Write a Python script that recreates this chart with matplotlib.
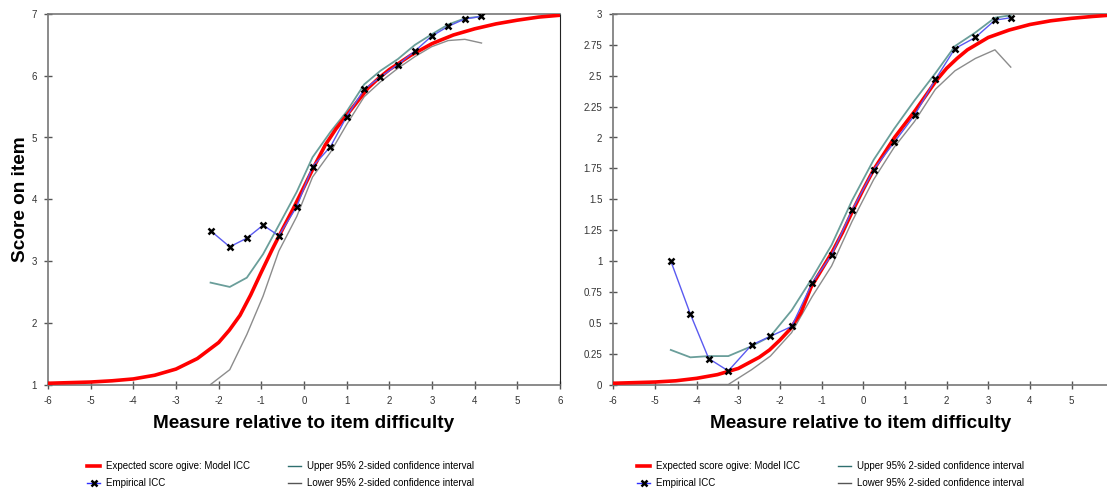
import matplotlib.pyplot as plt
from matplotlib.lines import Line2D
from matplotlib.ticker import FormatStrFormatter

plt.rcParams['font.family'] = ['Liberation Sans', 'DejaVu Sans']
plt.rcParams['axes.unicode_minus'] = False

# left chart (7 category item)
left_model_x = [-6, -5.5, -5, -4.5, -4, -3.5, -3, -2.5, -2, -1.75, -1.5, -1.25, -1, -0.75, -0.5, -0.25,
                0, 0.25, 0.5, 0.75, 1, 1.25, 1.5, 1.75, 2, 2.5, 3, 3.5, 4, 4.5, 5, 5.5, 6]
left_model_y = [1.02, 1.03, 1.04, 1.06, 1.09, 1.15, 1.25, 1.42, 1.68, 1.88, 2.12, 2.45, 2.82, 3.18, 3.52, 3.85,
                4.2, 4.55, 4.88, 5.14, 5.36, 5.58, 5.8, 5.96, 6.1, 6.33, 6.52, 6.66, 6.76, 6.84, 6.9, 6.95, 6.98]
left_emp_x = [-2.19, -1.74, -1.34, -0.96, -0.59, -0.17, 0.20, 0.62, 1.00, 1.41, 1.79, 2.20, 2.60, 2.99, 3.38, 3.77, 4.16]
left_emp_y = [3.49, 3.23, 3.37, 3.58, 3.41, 3.88, 4.53, 4.85, 5.34, 5.78, 5.98, 6.18, 6.40, 6.64, 6.80, 6.92, 6.96]
left_upper = [2.65, 2.58, 2.73, 3.11, 3.58, 4.12, 4.68, 5.09, 5.42, 5.86, 6.08, 6.27, 6.50, 6.67, 6.83, 6.93, 6.96]
left_lower = [1.00, 1.24, 1.81, 2.43, 3.16, 3.72, 4.36, 4.76, 5.21, 5.66, 5.90, 6.12, 6.31, 6.47, 6.57, 6.59, 6.53]

# right chart (4 category item)
right_model_x = [-6, -5.5, -5, -4.5, -4, -3.5, -3, -2.5, -2.25, -2, -1.75, -1.5, -1.25, -1, -0.75, -0.5, -0.25,
                 0, 0.25, 0.5, 0.75, 1, 1.25, 1.5, 1.75, 2, 2.25, 2.5, 3, 3.5, 4, 4.5, 5, 5.5, 5.9]
right_model_y = [0.01, 0.015, 0.02, 0.03, 0.05, 0.08, 0.13, 0.22, 0.28, 0.36, 0.45, 0.58, 0.79, 0.93, 1.07, 1.23, 1.41,
                 1.58, 1.74, 1.87, 2.0, 2.11, 2.22, 2.34, 2.46, 2.56, 2.64, 2.71, 2.81, 2.87, 2.915, 2.945, 2.965, 2.98, 2.99]
right_emp_x = [-4.62, -4.15, -3.71, -3.24, -2.68, -2.23, -1.72, -1.23, -0.76, -0.27, 0.25, 0.74, 1.23, 1.73, 2.20, 2.69, 3.16, 3.54]
right_emp_y = [1.00, 0.57, 0.21, 0.11, 0.32, 0.39, 0.47, 0.82, 1.05, 1.41, 1.74, 1.96, 2.18, 2.47, 2.72, 2.81, 2.95, 2.97]
right_upper = [0.28, 0.22, 0.23, 0.23, 0.31, 0.39, 0.60, 0.86, 1.13, 1.49, 1.82, 2.07, 2.30, 2.52, 2.74, 2.85, 2.97, 2.99]
right_lower = [0.00, 0.00, 0.00, 0.00, 0.12, 0.23, 0.42, 0.71, 0.96, 1.32, 1.66, 1.92, 2.13, 2.39, 2.54, 2.64, 2.71, 2.57]

left_yticks = [1, 2, 3, 4, 5, 6, 7]
right_yticks = [0, 0.25, 0.5, 0.75, 1, 1.25, 1.5, 1.75, 2, 2.25, 2.5, 2.75, 3]

legend_labels = ["Expected score ogive: Model ICC", "Empirical ICC",
                 "Upper 95% 2-sided confidence interval", "Lower 95% 2-sided confidence interval"]

W, H = 1107, 494
fig = plt.figure(figsize=(W / 100, H / 100), dpi=100)


def px_box(x0, x1, y_top, y_bot):
    return [x0 / W, 1 - y_bot / H, (x1 - x0) / W, (y_bot - y_top) / H]


def draw_icc(ax, mx, my, ex, ey, up, lo):
    ax.plot(ex, up, color='#6a9e9a', lw=1.3, zorder=2)
    ax.plot(ex, lo, color='#8c8c8c', lw=1.0, zorder=2)
    ax.plot(mx, my, color='#ff0000', lw=2.6, zorder=3)
    ax.plot(ex, ey, color='#5a5af0', lw=1.0, zorder=4)
    ax.plot(ex, ey, ls='none', marker='x', ms=5, mew=1.8, color='black', zorder=5)


def style_axes(ax, xlim, ylim, xticks, yticks):
    ax.set_xlim(*xlim)
    ax.set_ylim(*ylim)
    ax.set_xticks(xticks)
    ax.set_yticks(yticks)
    ax.yaxis.set_major_formatter(FormatStrFormatter('%g'))
    ax.tick_params(direction='inout', length=6, width=1, color='#555555',
                   labelsize=7, labelcolor='#333333', pad=5)
    for s in ['left', 'top', 'bottom']:
        ax.spines[s].set_color('#777777')
        ax.spines[s].set_linewidth(1.2)
    ax.set_xlabel("Measure relative to item difficulty", fontsize=13.7, fontweight='bold')
    ax.xaxis.set_label_coords(0.5, -0.082)


def add_legend(ax, x_px):
    handles = [
        Line2D([], [], color='#ff0000', lw=2.6),
        Line2D([], [], color='#3030ff', lw=1, marker='x', ms=5, mew=1.8, mec='black'),
        Line2D([], [], color='#2f6f6f', lw=1),
        Line2D([], [], color='#555555', lw=1),
    ]
    fig.legend(handles, legend_labels, loc='upper left', bbox_to_anchor=(x_px / W, 1 - 461 / H),
               ncol=2, frameon=False, fontsize=7, handlelength=1.35, handletextpad=0.6,
               columnspacing=3.9, labelspacing=0.75, borderpad=0, borderaxespad=0)


ax1 = fig.add_axes(px_box(48, 560, 14, 384.5))
draw_icc(ax1, left_model_x, left_model_y, left_emp_x, left_emp_y, left_upper, left_lower)
style_axes(ax1, (-6, 6), (1, 7), range(-6, 7), left_yticks)
ax1.spines['right'].set_color('#222222')
ax1.set_ylabel("Score on item", fontsize=13.7, fontweight='bold')
ax1.yaxis.set_label_coords(-0.038, 0.5)
add_legend(ax1, 87)

ax2 = fig.add_axes(px_box(613.3, 1107, 14, 384.5))
draw_icc(ax2, right_model_x, right_model_y, right_emp_x, right_emp_y, right_upper, right_lower)
style_axes(ax2, (-6, 5.85), (0, 3), range(-6, 6), right_yticks)
ax2.spines['right'].set_visible(False)
add_legend(ax2, 637)

fig.savefig('out.png', dpi=100)
